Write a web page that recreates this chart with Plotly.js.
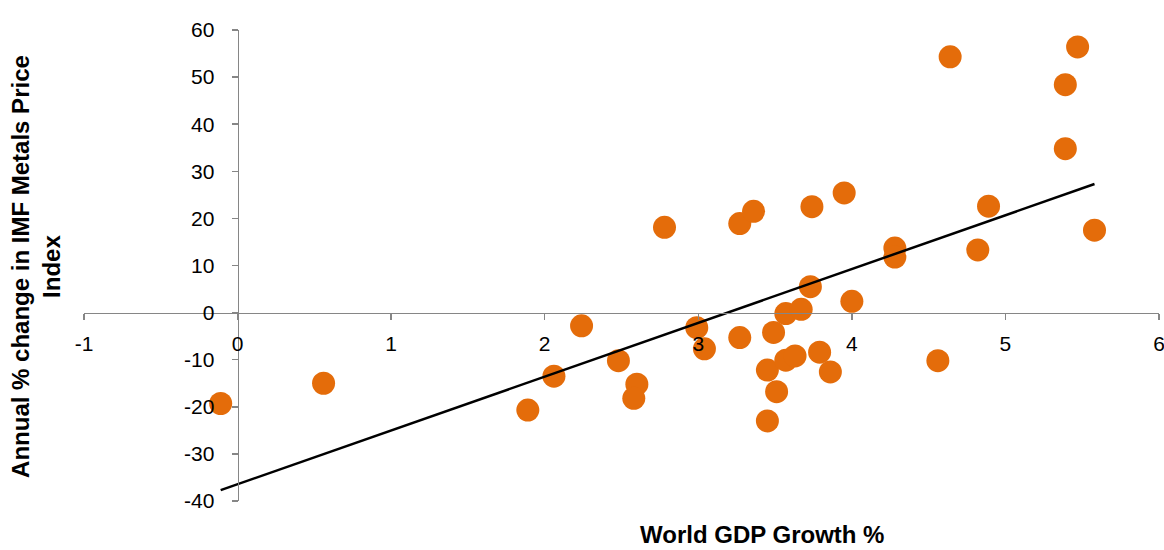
<!DOCTYPE html>
<html>
<head>
<meta charset="utf-8">
<script src="https://cdn.plot.ly/plotly-3.0.1.min.js"></script>
<style>html,body{margin:0;padding:0;background:#fff;}#chart{width:1164px;height:550px;}</style>
</head>
<body>
<div id="chart"></div>
<script>
// World GDP growth % (x) vs annual % change in IMF Metals Price Index (y)
const gdpGrowth = [-0.11, 0.56, 1.89, 2.06, 2.24, 2.48, 2.60, 2.58, 2.78, 2.99,
  3.04, 3.27, 3.27, 3.36, 3.45, 3.45, 3.49, 3.51, 3.57, 3.57,
  3.63, 3.67, 3.73, 3.74, 3.79, 3.86, 3.95, 4.00, 4.28, 4.28,
  4.56, 4.64, 4.82, 4.89, 5.39, 5.39, 5.47, 5.58];
const metalsChange = [-19.3, -15.0, -20.7, -13.5, -2.8, -10.2, -15.2, -18.2, 18.1, -3.2,
  -7.7, 18.9, -5.3, 21.5, -12.2, -23.0, -4.2, -16.8, -0.2, -10.1,
  -9.2, 0.7, 5.5, 22.5, -8.4, -12.6, 25.4, 2.4, 13.7, 11.8,
  -10.2, 54.3, 13.3, 22.6, 48.4, 34.8, 56.4, 17.5];
// Linear trendline end points as drawn
const trendX = [-0.11, 5.58];
const trendY = [-37.7, 27.3];
const xTickVals = [-1, 0, 1, 2, 3, 4, 5, 6];
const yTickVals = [-40, -30, -20, -10, 0, 10, 20, 30, 40, 50, 60];

const font = 'Liberation Sans, Arial, sans-serif';
const axisGrey = '#868686';

const data = [
  {
    x: gdpGrowth, y: metalsChange, type: 'scatter', mode: 'markers',
    marker: {color: '#E46C0A', size: 23, line: {width: 0}},
    hoverinfo: 'x+y', showlegend: false, cliponaxis: false
  },
  {
    x: trendX, y: trendY, type: 'scatter', mode: 'lines',
    line: {color: '#000000', width: 2.5}, hoverinfo: 'skip', showlegend: false
  }
];

const layout = {
  width: 1164, height: 550,
  margin: {l: 84, r: 5, t: 30, b: 49},
  paper_bgcolor: '#ffffff', plot_bgcolor: 'rgba(0,0,0,0)',
  font: {family: font, color: '#000000', size: 21},
  showlegend: false,
  xaxis: {
    range: [-1, 6], domain: [0, 1], anchor: 'free', position: 0.4,
    tickvals: xTickVals, ticktext: xTickVals.map(String),
    showgrid: false, zeroline: false, showline: true,
    linecolor: axisGrey, linewidth: 1.5,
    ticks: 'outside', ticklen: 6, tickwidth: 1.5, tickcolor: axisGrey,
    ticklabelstandoff: 6, ticklabeloverflow: 'allow',
    tickfont: {family: font, size: 21, color: '#000000'}
  },
  yaxis: {
    range: [-40, 60], domain: [0, 1], anchor: 'free', position: 1 / 7,
    tickvals: yTickVals, ticktext: yTickVals.map(String),
    showgrid: false, zeroline: false, showline: true,
    linecolor: axisGrey, linewidth: 1.5,
    ticks: 'outside', ticklen: 6, tickwidth: 1.5, tickcolor: axisGrey,
    ticklabelstandoff: 13, ticklabeloverflow: 'allow',
    tickfont: {family: font, size: 21, color: '#000000'}
  },
  annotations: [
    {
      text: '<b>World GDP Growth %</b>', xref: 'paper', yref: 'paper',
      x: 0.6307, y: -0.0372, xanchor: 'center', yanchor: 'top',
      showarrow: false, font: {family: font, size: 24, color: '#000000'}
    },
    {
      text: '<b>Annual % change in IMF Metals Price<br>Index</b>', xref: 'paper', yref: 'paper',
      x: -0.0447, y: 0.499, xanchor: 'center', yanchor: 'middle', textangle: -90,
      showarrow: false, font: {family: font, size: 24, color: '#000000'}
    }
  ]
};

Plotly.newPlot('chart', data, layout, {displayModeBar: false, staticPlot: true});
</script>
</body>
</html>
